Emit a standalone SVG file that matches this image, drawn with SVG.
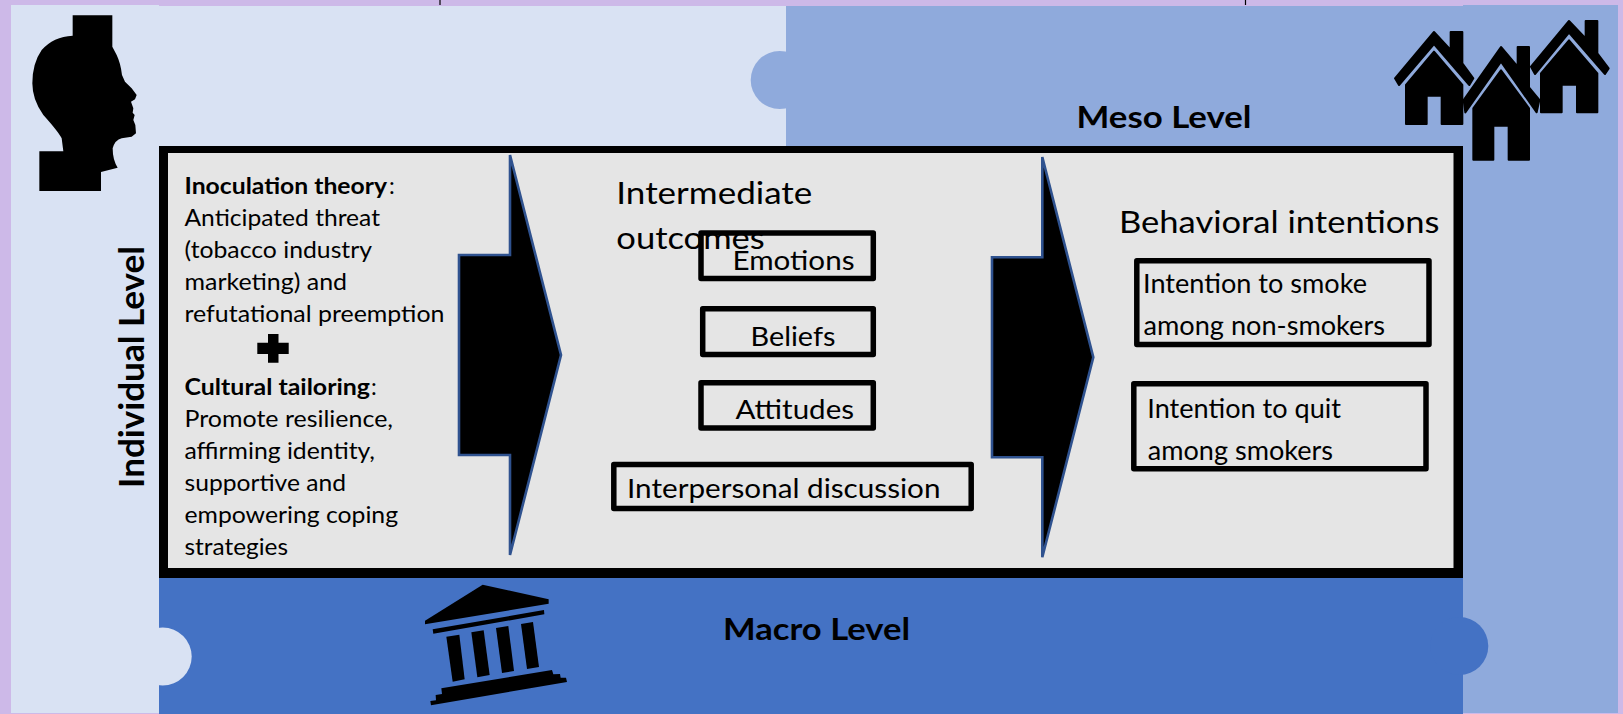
<svg xmlns="http://www.w3.org/2000/svg" width="1623" height="714" viewBox="0 0 1623 714">
<defs><style>
text{font-family:Lato,"Liberation Sans",sans-serif;fill:#000}
.b{font-weight:700}
.t{font-size:23px}
.m{font-size:26.5px}
.h{font-size:30.5px}
.l{font-size:31px;font-weight:700}
.box{fill:none;stroke:#000;stroke-width:5.5;stroke-linejoin:round}
.arrow{fill:#000;stroke:#2F528F;stroke-width:2.6}
.ico{fill:#000}
</style></defs>
<rect width="1623" height="714" fill="#CDB9E8"/>
<path d="M440 0V5M1245.5 0V5" stroke="#000" stroke-width="1.2" fill="none"/>
<g id="individual-panel">
<path d="M11 5H159V6H786V146H159V713H11Z" fill="#D9E2F3"/>
<circle cx="779.700" cy="80" r="29" fill="#8FAADC"/>
</g>
<g id="meso-panel">
<path d="M786 6H1463V5H1618V713H1463V146H786Z" fill="#8FAADC"/>
<text class="l" x="1076.500" y="127.500" textLength="175" lengthAdjust="spacingAndGlyphs">Meso Level</text>
</g>
<g id="macro-panel">
<rect x="159" y="578" width="1304" height="136" fill="#4472C4"/>
<circle cx="162.700" cy="656.500" r="29" fill="#D9E2F3"/>
<circle cx="1459.300" cy="646" r="29" fill="#4472C4"/>
<text class="l" x="723" y="640" textLength="187" lengthAdjust="spacingAndGlyphs">Macro Level</text>
</g>
<g id="individual-label">
<text class="l" transform="translate(144 488) rotate(-90)" x="0" y="0" textLength="242" lengthAdjust="spacingAndGlyphs" style="font-size:34px">Individual Level</text>
</g>
<g id="head-icon">
<path class="ico" transform="scale(.33333)" d="M218 46H337V140L350 165Q362 190 366 225L375 245L395 265L410 285L405 298L393 305L400 325L398 338L404 345L400 360L406 375L408 400L395 410L365 415Q345 420 338 445Q338 480 353 503L303 516V573H118V454H190L185 415Q175 395 130 345Q97 300 97 250Q97 190 125 150Q160 110 218 107Z"/>
</g>
<g id="houses-icon">
<g class="ico" transform="translate(1350 0) scale(.33333)" stroke="#000" stroke-width="6" stroke-linejoin="round">
<path d="M252 96L302 150V96H337V190L370 235L358 255L252 132L147 255L135 235Z"/>
<path d="M252 155L337 255V372H275V287H230V372H168V255Z"/>
<path d="M657 63L707 115V63H742V160L776 205L765 222L657 98L555 222L543 200Z"/>
<path d="M657 121L742 220V337H681V254H635V337H573V220Z"/>
<path d="M453 141L503 200V141H537V262L568 300L560 337L453 185L346 337L341 300Z"/>
<path d="M453 211L537 325V479H476V377H430V479H370V325Z"/>
</g>
</g>
<g id="building-icon">
<g class="ico" transform="translate(380 570) scale(.33333)">
<path d="M135 152L308 44L506 88V101L135 163Z"/>
<path d="M158 178L492 120L493 133L160 191Z"/>
<path d="M199 200L238 194L254 328L218 335Z"/>
<path d="M274 187L311 181L329 315L292 322Z"/>
<path d="M348 174L385 168L402 303L366 309Z"/>
<path d="M423 162L459 156L477 291L441 297Z"/>
<path d="M184 355L516 300L520 313L540 312L542 323L558 323L561 336L153 406L151 393L168 391L167 375L186 372Z"/>
</g>
</g>
<g id="main-frame">
<rect x="163.500" y="149.500" width="1295" height="424" fill="#E5E5E5"/>
<path fill="#000" fill-rule="evenodd" d="M159 146H1463V578H159ZM168 153V568H1453.500V153Z"/>
</g>
<g id="connectors">
<path class="arrow" d="M459 255H510V155L561 355L510 555V455H459Z"/>
<path class="arrow" d="M992 257.300H1042.300V157L1093.300 357.300L1042.300 557.300V457.300H992Z"/>
</g>
<g id="inputs">
<text class="t b" x="184.500" y="194" textLength="202.500" lengthAdjust="spacingAndGlyphs">Inoculation theory</text>
<text class="t" x="389" y="194">:</text>
<text class="t" x="184.500" y="226" textLength="195.500" lengthAdjust="spacingAndGlyphs">Anticipated threat</text>
<text class="t" x="184.500" y="258" textLength="187.500" lengthAdjust="spacingAndGlyphs">(tobacco industry</text>
<text class="t" x="184.500" y="290" textLength="162.500" lengthAdjust="spacingAndGlyphs">marketing) and</text>
<text class="t" x="184.500" y="322" textLength="260" lengthAdjust="spacingAndGlyphs">refutational preemption</text>
<path id="plus" class="ico" d="M268 334H278.500V342.700H288.700V354H278.500V362.700H268V354H257.300V342.700H268Z"/>
<text class="t b" x="184.500" y="395" textLength="185.500" lengthAdjust="spacingAndGlyphs">Cultural tailoring</text>
<text class="t" x="371" y="395">:</text>
<text class="t" x="184.500" y="427" textLength="208.500" lengthAdjust="spacingAndGlyphs">Promote resilience,</text>
<text class="t" x="184.500" y="459" textLength="190.500" lengthAdjust="spacingAndGlyphs">affirming identity,</text>
<text class="t" x="184.500" y="491" textLength="161.500" lengthAdjust="spacingAndGlyphs">supportive and</text>
<text class="t" x="184.500" y="523" textLength="213.500" lengthAdjust="spacingAndGlyphs">empowering coping</text>
<text class="t" x="184.500" y="555" textLength="103.500" lengthAdjust="spacingAndGlyphs">strategies</text>
</g>
<g id="intermediate-title">
<text class="h" x="616.300" y="204.300" textLength="196" lengthAdjust="spacingAndGlyphs">Intermediate</text>
<text class="h" x="616.300" y="249.300" textLength="148.500" lengthAdjust="spacingAndGlyphs">outcomes</text>
</g>
<g id="emotions"><rect class="box" x="701" y="233" width="172.300" height="45.600"/><text class="m" x="732.500" y="270" textLength="122" lengthAdjust="spacingAndGlyphs">Emotions</text></g>
<g id="beliefs"><rect class="box" x="702.700" y="308.800" width="170.600" height="45.800"/><text class="m" x="750.500" y="345.700" textLength="85" lengthAdjust="spacingAndGlyphs">Beliefs</text></g>
<g id="attitudes"><rect class="box" x="701" y="382.700" width="172.300" height="45.300"/><text class="m" x="735.500" y="419.300" textLength="118.500" lengthAdjust="spacingAndGlyphs">Attitudes</text></g>
<g id="interpersonal"><rect class="box" x="613.800" y="464.500" width="357.400" height="44"/><text class="m" x="627" y="498.300" textLength="313.500" lengthAdjust="spacingAndGlyphs">Interpersonal discussion</text></g>
<g id="behavioral-title"><text class="h" x="1119" y="232.700" textLength="320.500" lengthAdjust="spacingAndGlyphs">Behavioral intentions</text></g>
<g id="intention-smoke"><rect class="box" x="1136.800" y="260.800" width="292.200" height="83.700"/>
<text class="m" x="1143" y="293.300" textLength="224" lengthAdjust="spacingAndGlyphs">Intention to smoke</text>
<text class="m" x="1143.500" y="335" textLength="241.500" lengthAdjust="spacingAndGlyphs">among non-smokers</text></g>
<g id="intention-quit"><rect class="box" x="1133.800" y="383.800" width="292.200" height="85"/>
<text class="m" x="1147.300" y="417.700" textLength="193.700" lengthAdjust="spacingAndGlyphs">Intention to quit</text>
<text class="m" x="1147.800" y="460" textLength="185.200" lengthAdjust="spacingAndGlyphs">among smokers</text></g>
</svg>
